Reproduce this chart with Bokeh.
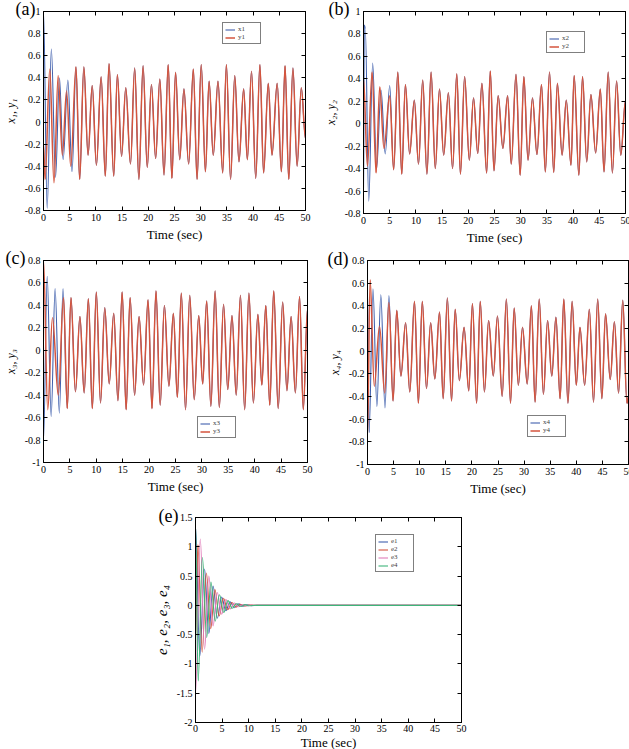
import numpy as np
from bokeh.plotting import figure
from bokeh.models import Range1d, FixedTicker, LinearAxis, Legend, LegendItem, Spacer, Title
from bokeh.layouts import column, row
from bokeh.embed import file_html
from bokeh.resources import INLINE

SERIF = "Liberation Serif"
BLUE = "#4060ad"
RED = "#d4553e"
PINK = "#e07cb9"
GREEN = "#3fb57a"

# ---- axis ticks -------------------------------------------------------
time_ticks = [0, 5, 10, 15, 20, 25, 30, 35, 40, 45, 50]
time_tick_labels = ["0", "5", "10", "15", "20", "25", "30", "35", "40", "45", "50"]
ab_ticks = [-0.8, -0.6, -0.4, -0.2, 0, 0.2, 0.4, 0.6, 0.8, 1]
ab_tick_labels = ["-0.8", "-0.6", "-0.4", "-0.2", "0", "0.2", "0.4", "0.6", "0.8", "1"]
cd_ticks = [-1, -0.8, -0.6, -0.4, -0.2, 0, 0.2, 0.4, 0.6, 0.8]
cd_tick_labels = ["-1", "-0.8", "-0.6", "-0.4", "-0.2", "0", "0.2", "0.4", "0.6", "0.8"]
e_ticks = [-2, -1.5, -1, -0.5, 0, 0.5, 1, 1.5]
e_tick_labels = ["-2", "-1.5", "-1", "-0.5", "0", "0.5", "1", "1.5"]

# ---- trajectories: turning points (time, value) ------------------------
y1_t = [0.0, 0.3, 1.2, 2.0, 2.8, 3.6, 4.4, 5.2, 6.2, 6.9, 7.7, 8.5, 9.3, 10.1, 11.0, 11.8,
        12.5, 13.4, 14.1, 14.9, 15.7, 16.6, 17.4, 18.2, 19.0, 19.8, 20.6, 21.4, 22.2, 23.0,
        23.8, 24.5, 25.2, 26.0, 26.8, 27.7, 28.6, 29.3, 30.1, 30.9, 31.6, 32.4, 33.3, 34.2,
        34.9, 35.7, 36.5, 37.3, 38.2, 38.9, 39.7, 40.5, 41.3, 42.0, 42.9, 43.6, 44.6, 45.4,
        46.1, 46.8, 47.6, 48.4, 49.2, 50.0]
y1_v = [-0.2, -0.52, 0.48, -0.55, 0.42, -0.30, 0.28, -0.40, 0.50, -0.52, 0.50, -0.30, 0.33,
        -0.39, 0.41, -0.49, 0.53, -0.49, 0.43, -0.31, 0.31, -0.38, 0.49, -0.52, 0.51, -0.41,
        0.34, -0.33, 0.39, -0.48, 0.52, -0.51, 0.45, -0.34, 0.30, -0.38, 0.48, -0.52, 0.52,
        -0.45, 0.37, -0.30, 0.37, -0.46, 0.52, -0.52, 0.42, -0.36, 0.30, -0.34, 0.46, -0.51,
        0.52, -0.46, 0.35, -0.30, 0.35, -0.45, 0.51, -0.52, 0.49, -0.40, 0.31, -0.15]
x1_head_t = [0.0, 0.7, 1.5, 2.3, 3.05, 3.75, 4.65, 5.45, 6.2]
x1_head_v = [1.0, -0.78, 0.66, -0.50, 0.40, -0.34, 0.38, -0.45, 0.50]

y2_t = [0.0, 0.75, 1.65, 2.4, 3.1, 3.9, 5.0, 5.75, 6.55, 7.3, 8.0, 8.8, 9.7, 10.5, 11.3, 12.1,
        12.9, 13.7, 14.5, 15.3, 16.2, 17.0, 17.8, 18.5, 19.3, 20.2, 21.0, 21.8, 22.6, 23.5,
        24.2, 24.9, 25.7, 26.6, 27.5, 28.2, 29.1, 29.9, 30.6, 31.4, 32.25, 33.1, 33.97, 34.7,
        35.5, 36.3, 37.0, 37.9, 38.7, 39.6, 40.2, 41.1, 41.8, 42.6, 43.4, 44.3, 45.2, 45.9,
        46.7, 47.5, 48.3, 49.1, 50.0]
y2_v = [0.40, -0.38, 0.46, -0.44, 0.33, -0.22, 0.25, -0.41, 0.46, -0.45, 0.35, -0.27, 0.21,
        -0.36, 0.39, -0.45, 0.46, -0.40, 0.31, -0.28, 0.275, -0.40, 0.445, -0.45, 0.42, -0.325,
        0.23, -0.265, 0.36, -0.44, 0.47, -0.42, 0.25, -0.22, 0.25, -0.36, 0.44, -0.46, 0.42,
        -0.325, 0.23, -0.275, 0.35, -0.43, 0.46, -0.435, 0.36, -0.28, 0.21, -0.37, 0.43, -0.46,
        0.42, -0.34, 0.26, -0.26, 0.31, -0.43, 0.46, -0.44, 0.38, -0.28, 0.21]
x2_head_t = [0.0, 0.15, 0.35, 1.0, 1.75, 2.5, 3.35, 4.15, 5.0, 5.75, 6.55]
x2_head_v = [-0.75, 0.88, 0.85, -0.69, 0.54, -0.40, 0.30, -0.27, 0.34, -0.41, 0.46]

y3_t = [0.0, 0.8, 1.7, 2.8, 3.8, 4.5, 5.2, 6.05, 6.9, 7.7, 8.5, 9.25, 10.0, 10.8, 11.6, 12.45,
        13.3, 14.1, 14.9, 15.65, 16.4, 17.25, 18.1, 18.95, 19.8, 20.55, 21.3, 22.1, 22.9, 23.75,
        24.6, 25.35, 26.1, 26.9, 27.7, 28.55, 29.4, 30.15, 30.9, 31.7, 32.5, 33.3, 34.1, 34.9,
        35.7, 36.5, 37.3, 38.1, 38.9, 39.75, 40.6, 41.35, 42.1, 42.85, 43.6, 44.45, 45.3, 46.1,
        46.9, 47.7, 48.5, 49.2, 50.0]
y3_v = [0.80, -0.53, 0.29, -0.40, 0.47, -0.52, 0.47, -0.37, 0.30, -0.38, 0.46, -0.52, 0.52,
        -0.47, 0.38, -0.30, 0.33, -0.45, 0.52, -0.53, 0.47, -0.40, 0.30, -0.31, 0.45, -0.52,
        0.53, -0.49, 0.40, -0.32, 0.33, -0.42, 0.51, -0.53, 0.49, -0.44, 0.31, -0.30, 0.44,
        -0.50, 0.53, -0.51, 0.41, -0.35, 0.31, -0.40, 0.49, -0.53, 0.51, -0.47, 0.32, -0.31,
        0.40, -0.49, 0.53, -0.52, 0.43, -0.36, 0.30, -0.38, 0.48, -0.53, 0.37]
x3_head_t = [0.0, 0.7, 1.45, 2.2, 3.0, 3.7, 4.5]
x3_head_v = [-0.80, 0.66, -0.59, 0.55, -0.56, 0.55, -0.52]

y4_t = [0.0, 0.5, 1.3, 2.3, 3.3, 4.1, 4.9, 5.6, 6.4, 7.3, 8.1, 9.0, 9.75, 10.5, 11.3, 12.1,
        12.9, 13.8, 14.5, 15.3, 16.1, 16.8, 17.6, 18.5, 19.4, 20.1, 20.9, 21.6, 22.4, 23.2,
        24.1, 24.9, 25.8, 26.6, 27.4, 28.1, 28.9, 29.7, 30.6, 31.4, 32.1, 32.9, 33.7, 34.5,
        35.3, 36.1, 36.9, 37.6, 38.4, 39.2, 40.0, 40.7, 41.6, 42.5, 43.3, 44.1, 44.9, 45.6,
        46.5, 47.3, 48.1, 48.9, 49.7, 50.0]
y4_v = [-0.75, 0.63, -0.31, 0.22, -0.37, 0.43, -0.44, 0.36, -0.22, 0.25, -0.36, 0.44, -0.46,
        0.44, -0.33, 0.25, -0.245, 0.345, -0.42, 0.47, -0.44, 0.37, -0.26, 0.21, -0.35, 0.42,
        -0.46, 0.44, -0.36, 0.27, -0.22, 0.31, -0.40, 0.46, -0.46, 0.38, -0.30, 0.21, -0.29,
        0.40, -0.45, 0.46, -0.38, 0.27, -0.22, 0.30, -0.42, 0.46, -0.46, 0.44, -0.30, 0.21,
        -0.30, 0.37, -0.45, 0.46, -0.42, 0.33, -0.25, 0.26, -0.37, 0.45, -0.46, -0.40]
x4_head_t = [0.0, 0.3, 1.05, 1.8, 2.55, 3.35, 4.1, 4.9]
x4_head_v = [0.55, -0.72, 0.55, -0.49, 0.50, -0.50, 0.49, -0.44]

# synchronisation errors
e1_t = [0.0, 0.8, 1.7, 2.5, 3.3, 4.1, 4.9, 5.7, 6.5, 7.3, 8.1, 8.9, 9.7, 10.5, 11.5, 50.0]
e1_v = [1.35, -0.87, 0.62, -0.48, 0.33, -0.22, 0.14, -0.09, 0.06, -0.04, 0.025, -0.015, 0.01,
        -0.005, 0.0, 0.0]
e2_t = [0.0, 0.45, 1.25, 2.05, 2.85, 3.65, 4.45, 5.25, 6.05, 6.85, 7.65, 8.45, 9.25, 10.05,
        11.2, 50.0]
e2_v = [-0.6, 1.04, -0.80, 0.55, -0.40, 0.27, -0.18, 0.12, -0.075, 0.05, -0.03, 0.02, -0.012,
        0.007, 0.0, 0.0]
e3_t = [0.0, 0.9, 1.7, 2.5, 3.3, 4.1, 4.9, 5.7, 6.5, 7.3, 8.1, 8.9, 9.7, 10.5, 11.5, 50.0]
e3_v = [-1.5, 1.13, -0.75, 0.50, -0.35, 0.22, -0.15, 0.10, -0.06, 0.04, -0.025, 0.015, -0.01,
        0.005, 0.0, 0.0]
e4_t = [0.0, 0.5, 1.3, 2.1, 2.9, 3.7, 4.5, 5.3, 6.1, 6.9, 7.7, 8.5, 9.3, 10.1, 11.2, 50.0]
e4_v = [1.4, -1.29, 0.82, -0.55, 0.40, -0.27, 0.18, -0.12, 0.08, -0.05, 0.03, -0.02, 0.012,
        -0.007, 0.0, 0.0]


def join_tail(head_t, head_v, full_t, full_v):
    """Transient of the drive system, then the shared synchronised trajectory."""
    ts, vs = list(head_t), list(head_v)
    for t, v in zip(full_t, full_v):
        if t > head_t[-1]:
            ts.append(t)
            vs.append(v)
    return ts, vs


def smooth_curve(p, ts, vs, color, width=1.2):
    """Cubic Bezier arcs between successive turning points (flat tangents)."""
    t = np.asarray(ts, dtype=float)
    v = np.asarray(vs, dtype=float)
    dt = t[1:] - t[:-1]
    return p.bezier(x0=t[:-1], y0=v[:-1], x1=t[1:], y1=v[1:],
                    cx0=t[:-1] + 0.36 * dt, cy0=v[:-1],
                    cx1=t[1:] - 0.36 * dt, cy1=v[1:],
                    line_color=color, line_width=width)


def panel(frame_w, frame_h, left, right, top, bottom, yrange, yticks, ylabels, ylab,
          ylab_size="12px", xlab_standoff=3, xtick_standoff=3):
    p = figure(frame_width=frame_w, frame_height=frame_h,
               min_border_left=left, min_border_right=right,
               min_border_top=top, min_border_bottom=bottom,
               x_range=Range1d(0, 50), y_range=Range1d(*yrange),
               output_backend="svg", toolbar_location=None,
               background_fill_color="white", border_fill_color="white")
    p.grid.visible = False
    p.outline_line_color = "black"
    p.xaxis.ticker = FixedTicker(ticks=time_ticks)
    p.xaxis.major_label_overrides = {float(k): s for k, s in zip(time_ticks, time_tick_labels)}
    p.yaxis.ticker = FixedTicker(ticks=yticks)
    p.yaxis.major_label_overrides = {float(k): s for k, s in zip(yticks, ylabels)}
    for ax in (p.xaxis[0], p.yaxis[0]):
        ax.major_tick_in = 4
        ax.major_tick_out = 0
        ax.minor_tick_in = 0
        ax.minor_tick_out = 0
        ax.major_label_text_font = SERIF
        ax.major_label_text_font_size = "10px"
        ax.major_label_text_color = "black"
        ax.major_label_standoff = 3
        ax.axis_label_text_font = SERIF
        ax.axis_label_text_color = "black"
    p.xaxis.major_label_standoff = xtick_standoff
    p.xaxis.axis_label = "Time (sec)"
    p.xaxis.axis_label_text_font_size = "13px"
    p.xaxis.axis_label_text_font_style = "normal"
    p.xaxis.axis_label_standoff = xlab_standoff
    p.yaxis.axis_label = ylab
    p.yaxis.axis_label_text_font_size = ylab_size
    p.yaxis.axis_label_text_font_style = "italic"
    p.yaxis.axis_label_standoff = 4
    # tick marks on the top and right edges of the box
    top_ax = LinearAxis(ticker=FixedTicker(ticks=time_ticks), major_tick_in=4,
                        major_tick_out=0, minor_tick_in=0, minor_tick_out=0,
                        major_label_text_font_size="1px", major_label_text_color=None,
                        major_label_standoff=0)
    right_ax = LinearAxis(ticker=FixedTicker(ticks=yticks), major_tick_in=4,
                          major_tick_out=0, minor_tick_in=0, minor_tick_out=0,
                          major_label_text_font_size="1px", major_label_text_color=None,
                          major_label_standoff=0)
    p.add_layout(top_ax, "above")
    p.add_layout(right_ax, "right")
    return p


def add_legend(p, items, loc):
    leg = Legend(items=[LegendItem(label=name, renderers=[r]) for name, r in items],
                 location=loc, label_text_font=SERIF, label_text_font_size="7px",
                 label_height=5, glyph_height=5, glyph_width=10, label_standoff=3,
                 padding=2, spacing=0, margin=0, border_line_color="black",
                 border_line_width=1, background_fill_color="white",
                 background_fill_alpha=1.0)
    p.add_layout(leg, "center")


def tag(p, text, offset, standoff):
    """Panel letter beside the upper-left corner of the box."""
    try:
        t = Title(text=text, align="left", vertical_align="bottom", offset=offset,
                  standoff=standoff, text_font=SERIF, text_font_size="18px",
                  text_font_style="normal", text_color="black")
    except Exception:
        t = Title(text=text, align="left", offset=offset, standoff=0, text_font=SERIF,
                  text_font_size="18px", text_font_style="normal", text_color="black")
    p.add_layout(t, "above")


def pair(p, head_t, head_v, full_t, full_v):
    """Drive state (blue) under the response state (red)."""
    xt, xv = join_tail(head_t, head_v, full_t, full_v)
    rx = smooth_curve(p, xt, xv, BLUE, width=1.1)
    ry = smooth_curve(p, full_t, full_v, RED, width=1.5)
    return rx, ry


# (a)
pa = panel(262, 199, 40, 8, 11, 35, (-0.8, 1.0), ab_ticks, ab_tick_labels, "x\u2081, y\u2081")
ra1, ra2 = pair(pa, x1_head_t, x1_head_v, y1_t, y1_v)
add_legend(pa, [("x1", ra1), ("y1", ra2)], (179, 166))
tag(pa, "(a)", -28, -14)

# (b)
pb = panel(262, 202, 50, 7, 11, 32, (-0.8, 1.0), ab_ticks, ab_tick_labels, "x\u2082, y\u2082")
rb1, rb2 = pair(pb, x2_head_t, x2_head_v, y2_t, y2_v)
add_legend(pb, [("x2", rb1), ("y2", rb2)], (183, 160))
tag(pb, "(b)", -35, -14)

# (c)
pc = panel(264, 202, 38, 8, 10, 43, (-1.0, 0.8), cd_ticks, cd_tick_labels, "x\u2083, y\u2083")
rc1, rc2 = pair(pc, x3_head_t, x3_head_v, y3_t, y3_v)
add_legend(pc, [("x3", rc1), ("y3", rc2)], (154, 24))
tag(pc, "(c)", -38, -14)

# (d)
pd_ = panel(261, 204, 52, 6, 13, 38, (-1.0, 0.8), cd_ticks, cd_tick_labels, "x\u2084, y\u2084")
rd1, rd2 = pair(pd_, x4_head_t, x4_head_v, y4_t, y4_v)
add_legend(pd_, [("x4", rd1), ("y4", rd2)], (160, 27))
tag(pd_, "(d)", -40, -16)

# (e)
pe = panel(266, 205, 65, 30, 15, 29, (-2.0, 1.5), e_ticks, e_tick_labels,
           "e\u2081, e\u2082, e\u2083, e\u2084", ylab_size="15px", xlab_standoff=0,
           xtick_standoff=2)
re1 = smooth_curve(pe, e1_t, e1_v, BLUE, width=1.1)
re2 = smooth_curve(pe, e2_t, e2_v, RED, width=1.1)
re3 = smooth_curve(pe, e3_t, e3_v, PINK, width=1.1)
re4 = smooth_curve(pe, e4_t, e4_v, GREEN, width=1.1)
add_legend(pe, [("e1", re1), ("e2", re2), ("e3", re3), ("e4", re4)], (180, 150))
tag(pe, "(e)", -37, -16)

layout = column(row(pa, pb), row(pc, pd_), row(Spacer(width=130, height=249), pe))

open("out.html", "w").write(file_html(layout, INLINE))
